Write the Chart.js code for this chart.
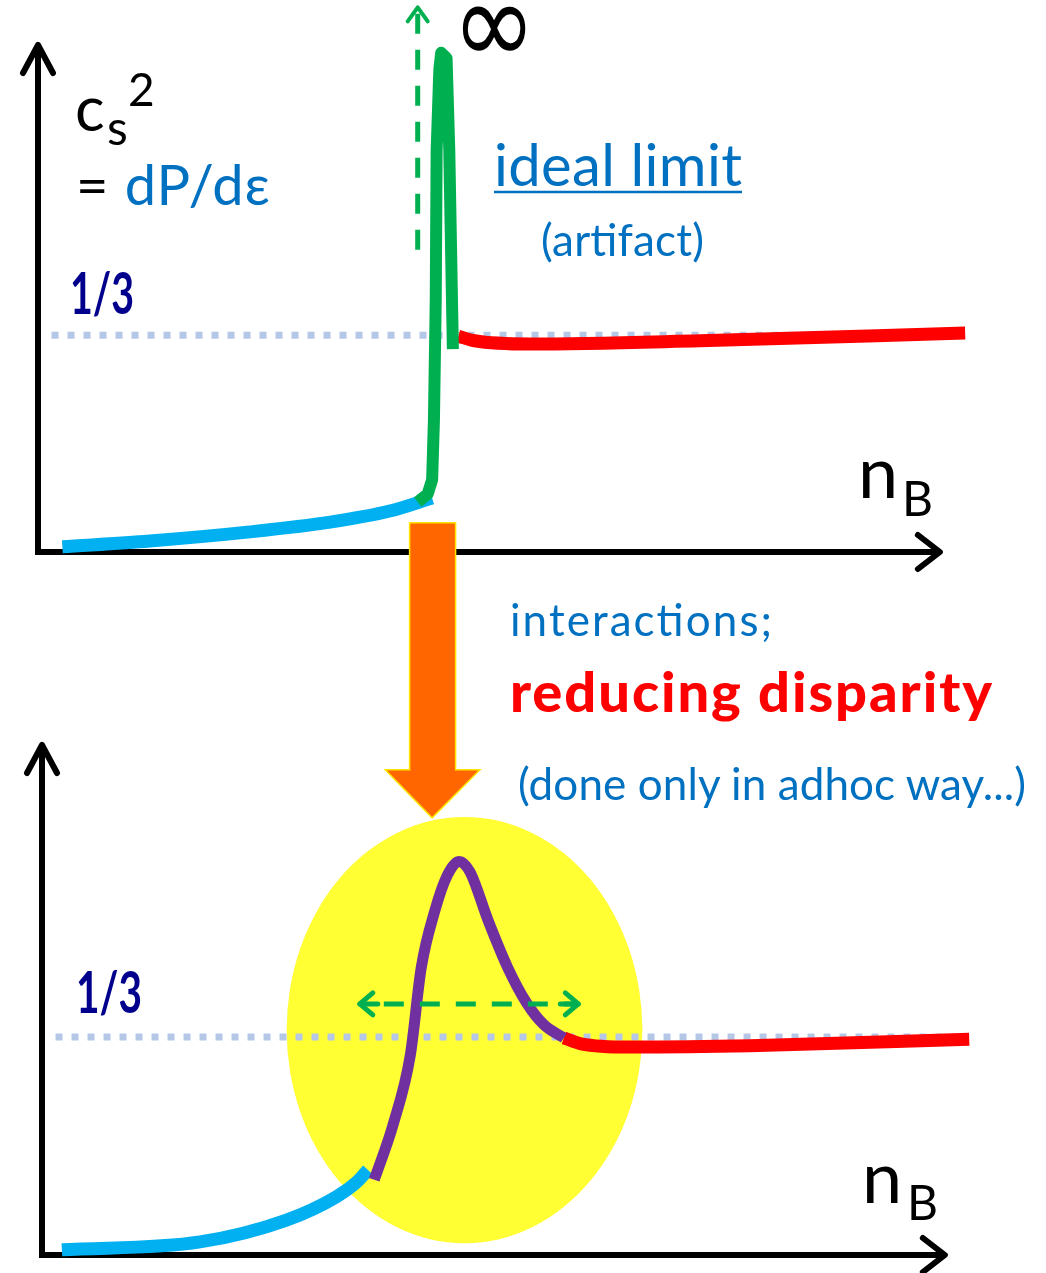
<!DOCTYPE html>
<html>
<head>
<meta charset="utf-8">
<script src="https://cdn.jsdelivr.net/npm/chart.js@4.4.1/dist/chart.umd.min.js"></script>
<style>
  html, body { margin: 0; padding: 0; background: #fff; }
  #wrap { position: relative; width: 1046px; height: 1273px; overflow: hidden; }
  canvas, svg { position: absolute; left: 0; top: 0; }
  svg text { font-family: Lato, 'Open Sans', sans-serif; }
</style>
</head>
<body>
<div id="wrap">
  <canvas id="onder" width="1046" height="1273"></canvas>
  <canvas id="boven" width="1046" height="1273"></canvas>
  <svg width="1046" height="1273">
    <!-- bovenste paneel -->
    <text x="75" y="131" font-size="62" fill="#000">c</text>
    <text x="107" y="145" font-size="48" fill="#000">s</text>
    <text x="128" y="106" font-size="46" fill="#000">2</text>
    <text x="76" y="205" font-size="56" textLength="194" lengthAdjust="spacing"><tspan fill="#000">= </tspan><tspan fill="#0070C0">dP/dε</tspan></text>
    <text x="70" y="314" font-size="58" font-weight="bold" fill="#00008C" textLength="64" lengthAdjust="spacingAndGlyphs">1/3</text>
    <text x="494" y="186" font-size="58" fill="#0070C0" textLength="248" lengthAdjust="spacing">ideal limit</text>
    <line x1="494" y1="192" x2="742" y2="192" stroke="#0070C0" stroke-width="2.5"/>
    <text x="541" y="256" font-size="44" fill="#0070C0" textLength="163" lengthAdjust="spacing">(artifact)</text>
    <text x="452" y="64" font-size="118" fill="#000" style="font-family:'DejaVu Sans'" textLength="84" lengthAdjust="spacingAndGlyphs">∞</text>
    <text x="858" y="498" font-size="72" fill="#000">n</text>
    <text x="902" y="516" font-size="48" fill="#000">B</text>
    <!-- tussentekst -->
    <text x="510" y="636" font-size="44" fill="#0070C0" textLength="262" lengthAdjust="spacing">interactions;</text>
    <text x="510" y="712" font-size="56" font-weight="900" fill="#FF0000" textLength="482" lengthAdjust="spacing">reducing disparity</text>
    <text x="518" y="800" font-size="44" fill="#0070C0" textLength="508" lengthAdjust="spacing">(done only in adhoc way...)</text>
    <!-- onderste paneel -->
    <text x="76" y="1013" font-size="58" font-weight="bold" fill="#00008C" textLength="66" lengthAdjust="spacingAndGlyphs">1/3</text>
    <text x="862" y="1203" font-size="72" fill="#000">n</text>
    <text x="907" y="1220" font-size="48" fill="#000">B</text>
  </svg>
</div>
<script>
// boven: ideale limiet (x = n_B, y = c_s^2, willekeurige eenheden)
const bovenBlauwX = [0.27, 1.24, 2.35, 3.24, 3.90, 4.37];
const bovenBlauwY = [0.008, 0.017, 0.031, 0.046, 0.063, 0.083];
const bovenGroenX = [4.21, 4.32, 4.37, 4.39, 4.41, 4.42, 4.45, 4.47, 4.53, 4.56, 4.58, 4.60];
const bovenGroenY = [0.077, 0.089, 0.111, 0.203, 0.388, 0.618, 0.742, 0.768, 0.760, 0.618, 0.465, 0.312];
const bovenRoodX = [4.66, 4.84, 5.45, 7.34, 10.28];
const bovenRoodY = [0.332, 0.325, 0.320, 0.325, 0.337];

// onder: met interacties
const onderBlauwX = [0.22, 1.75, 2.70, 3.26, 3.49, 3.61];
const onderBlauwY = [0.008, 0.020, 0.053, 0.089, 0.112, 0.130];
const onderPaarsX = [3.68, 3.89, 4.08, 4.20, 4.35, 4.49, 4.62, 4.74, 4.94, 5.16, 5.37, 5.56, 5.78];
const onderPaarsY = [0.115, 0.200, 0.306, 0.439, 0.526, 0.581, 0.602, 0.586, 0.512, 0.439, 0.385, 0.352, 0.332];
const onderRoodX = [5.78, 5.97, 6.51, 7.84, 10.27];
const onderRoodY = [0.332, 0.323, 0.318, 0.320, 0.330];

// conforme limiet 1/3
const derdeX = [0.15, 10.2];
const derdeY = [1 / 3, 1 / 3];

// hulpvormen in data-eenheden
const oneindigPijl = { x: 4.21, y0: 0.465, y1: 0.838 };
const breedtePijl = { y: 0.384, x0: 3.52, x1: 5.94 };
const gebied = { cx: 4.68, cy: 0.344, rx: 1.97, ry: 0.326 };
const oranjePijl = { x0: 4.12, x1: 4.63, kop0: 3.85, kop1: 4.90, punt: 4.37, top: 0.045, basis: -0.335, eind: -0.409 };

const zip = (xs, ys) => xs.map((x, i) => ({ x: x, y: ys[i] }));

function lijn(data, kleur, dikte, extra) {
  return Object.assign({
    data: data,
    borderColor: kleur,
    borderWidth: dikte,
    pointRadius: 0,
    fill: false,
    clip: false,
    cubicInterpolationMode: 'monotone',
    borderCapStyle: 'butt',
    borderJoinStyle: 'round'
  }, extra || {});
}

function stippel(ctx, pts) {
  ctx.beginPath();
  ctx.moveTo(pts[0][0], pts[0][1]);
  for (let i = 1; i < pts.length; i++) ctx.lineTo(pts[i][0], pts[i][1]);
  ctx.stroke();
}

// assen met pijlpunten
const assenPlugin = {
  id: 'assen',
  beforeDatasetsDraw(chart, args, opts) {
    const ctx = chart.ctx, ca = chart.chartArea;
    const xEnd = chart.scales.x.getPixelForValue(opts.xEnd);
    ctx.save();
    ctx.strokeStyle = '#000';
    ctx.lineWidth = 6;
    ctx.lineJoin = 'miter';
    stippel(ctx, [[ca.left, ca.top + 3], [ca.left, ca.bottom], [xEnd - 3, ca.bottom]]);
    ctx.lineCap = 'round';
    ctx.lineJoin = 'round';
    ctx.lineWidth = 6;
    stippel(ctx, [[ca.left - 15, ca.top + 28], [ca.left, ca.top], [ca.left + 15, ca.top + 28]]);
    stippel(ctx, [[xEnd - 22, ca.bottom - 17], [xEnd, ca.bottom], [xEnd - 22, ca.bottom + 17]]);
    ctx.restore();
  }
};

function groenStreep(ctx) {
  ctx.strokeStyle = '#00B050';
  ctx.lineWidth = 5;
  ctx.setLineDash([20, 16]);
}

const bovenExtra = {
  id: 'bovenExtra',
  afterDraw(chart) {
    const ctx = chart.ctx;
    const px = v => chart.scales.x.getPixelForValue(v);
    const py = v => chart.scales.y.getPixelForValue(v);
    ctx.save();
    // gestreepte pijl naar oneindig
    groenStreep(ctx);
    stippel(ctx, [[px(oneindigPijl.x), py(oneindigPijl.y0)], [px(oneindigPijl.x), py(oneindigPijl.y1) + 4]]);
    ctx.setLineDash([]);
    ctx.lineWidth = 4;
    ctx.lineCap = 'round';
    ctx.lineJoin = 'round';
    const tx = px(oneindigPijl.x), ty = py(oneindigPijl.y1);
    stippel(ctx, [[tx - 10, ty + 14], [tx, ty], [tx + 10, ty + 14]]);
    // oranje pijl
    const o = oranjePijl;
    ctx.beginPath();
    ctx.moveTo(px(o.x0), py(o.top));
    ctx.lineTo(px(o.x1), py(o.top));
    ctx.lineTo(px(o.x1), py(o.basis));
    ctx.lineTo(px(o.kop1), py(o.basis));
    ctx.lineTo(px(o.punt), py(o.eind));
    ctx.lineTo(px(o.kop0), py(o.basis));
    ctx.lineTo(px(o.x0), py(o.basis));
    ctx.closePath();
    ctx.fillStyle = '#FF6600';
    ctx.fill();
    ctx.strokeStyle = '#FFE500';
    ctx.lineWidth = 1.5;
    ctx.lineJoin = 'miter';
    ctx.stroke();
    ctx.restore();
  }
};

const onderExtra = {
  id: 'onderExtra',
  beforeDatasetsDraw(chart) {
    const ctx = chart.ctx;
    const xs = chart.scales.x, ys = chart.scales.y;
    const cx = xs.getPixelForValue(gebied.cx), cy = ys.getPixelForValue(gebied.cy);
    const rx = xs.getPixelForValue(gebied.cx + gebied.rx) - cx;
    const ry = cy - ys.getPixelForValue(gebied.cy + gebied.ry);
    ctx.save();
    ctx.beginPath();
    ctx.ellipse(cx, cy, rx, ry, 0, 0, Math.PI * 2);
    ctx.fillStyle = '#FFFF33';
    ctx.fill();
    ctx.restore();
  },
  afterDatasetsDraw(chart) {
    const ctx = chart.ctx;
    const px = v => chart.scales.x.getPixelForValue(v);
    const py = v => chart.scales.y.getPixelForValue(v);
    const y = py(breedtePijl.y), a = px(breedtePijl.x0), b = px(breedtePijl.x1);
    ctx.save();
    groenStreep(ctx);
    stippel(ctx, [[a + 24, y], [b - 6, y]]);
    ctx.setLineDash([]);
    ctx.lineWidth = 5;
    ctx.lineCap = 'round';
    ctx.lineJoin = 'round';
    stippel(ctx, [[a + 13, y - 11], [a, y], [a + 13, y + 11]]);
    stippel(ctx, [[a, y], [a + 18, y]]);
    stippel(ctx, [[b - 13, y - 11], [b, y], [b - 13, y + 11]]);
    stippel(ctx, [[b, y], [b - 18, y]]);
    ctx.restore();
  }
};

function opties(padding, xEnd) {
  return {
    responsive: false,
    maintainAspectRatio: false,
    animation: false,
    events: [],
    layout: { padding: padding },
    plugins: {
      legend: { display: false },
      tooltip: { enabled: false },
      assen: { xEnd: xEnd }
    },
    scales: {
      x: { type: 'linear', min: 0, max: 10.5, display: false },
      y: { type: 'linear', min: 0, max: 0.78, display: false }
    }
  };
}

new Chart(document.getElementById('boven').getContext('2d'), {
  type: 'line',
  data: {
    datasets: [
      lijn(zip(bovenGroenX, bovenGroenY), '#00B050', 12, { cubicInterpolationMode: 'default', tension: 0 }),
      lijn(zip(bovenRoodX, bovenRoodY), '#FF0000', 13),
      lijn(zip(bovenBlauwX, bovenBlauwY), '#00B0F0', 13),
      lijn(zip(derdeX, derdeY), '#B4C7E7', 7, { borderDash: [7, 9] })
    ]
  },
  options: opties({ left: 38, right: 61, top: 45, bottom: 721 }, 10),
  plugins: [assenPlugin, bovenExtra]
});

new Chart(document.getElementById('onder').getContext('2d'), {
  type: 'line',
  data: {
    datasets: [
      lijn(zip(onderPaarsX, onderPaarsY), '#7030A0', 11),
      lijn(zip(onderRoodX, onderRoodY), '#FF0000', 13),
      lijn(zip(onderBlauwX, onderBlauwY), '#00B0F0', 13),
      lijn(zip(derdeX, derdeY), '#B4C7E7', 7, { borderDash: [7, 9] })
    ]
  },
  options: opties({ left: 42, right: 56, top: 745, bottom: 18 }, 10),
  plugins: [assenPlugin, onderExtra]
});
</script>
</body>
</html>
